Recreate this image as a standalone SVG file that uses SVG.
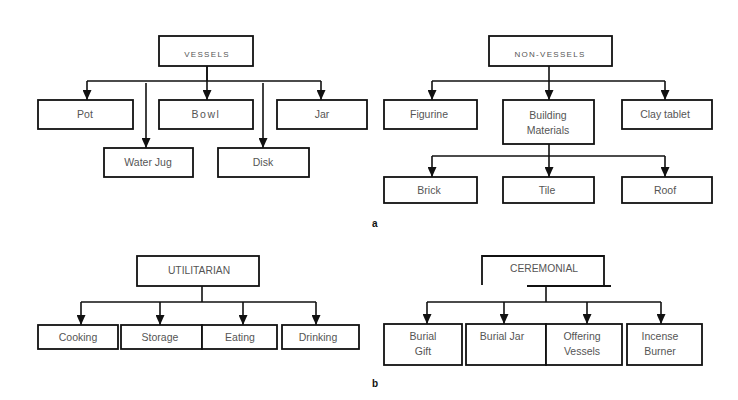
<svg xmlns="http://www.w3.org/2000/svg" width="738" height="400" viewBox="0 0 738 400">
<style>
.b{fill:#fff;stroke:#111;stroke-width:1.8}
.c{fill:none;stroke:#111;stroke-width:1.6}
.t{font-family:"Liberation Sans",Arial,sans-serif;font-size:10.5px;fill:#555;text-anchor:middle}
.h{font-family:"Liberation Sans",Arial,sans-serif;font-size:8px;fill:#555;text-anchor:middle;letter-spacing:1.3px}
.hu{font-family:"Liberation Sans",Arial,sans-serif;font-size:10.3px;fill:#555;text-anchor:middle}
.l{font-family:"Liberation Sans",Arial,sans-serif;font-size:10px;font-weight:bold;fill:#111}
</style>
<defs>
<marker id="a" markerUnits="userSpaceOnUse" markerWidth="10" markerHeight="9" viewBox="0 0 10 9" refX="10" refY="4.5" orient="auto">
<path d="M0,0 L10,4.5 L0,9 z" fill="#111"/>
</marker>
</defs>
<rect width="738" height="400" fill="#fff"/>
<g id="connectors">
<path class="c" d="M207,66 V81 M87,81 H321"/>
<path class="c" d="M207,66 V100" marker-end="url(#a)"/>
<path class="c" d="M87,81 V100" marker-end="url(#a)"/>
<path class="c" d="M321,81 V100" marker-end="url(#a)"/>
<path class="c" d="M146,83 V148" marker-end="url(#a)"/>
<path class="c" d="M263,83 V148" marker-end="url(#a)"/>
<path class="c" d="M432,81 H665"/>
<path class="c" d="M549,66 V100" marker-end="url(#a)"/>
<path class="c" d="M432,81 V100" marker-end="url(#a)"/>
<path class="c" d="M665,81 V100" marker-end="url(#a)"/>
<path class="c" d="M432,156 H665"/>
<path class="c" d="M549,144 V177" marker-end="url(#a)"/>
<path class="c" d="M432,156 V177" marker-end="url(#a)"/>
<path class="c" d="M665,156 V177" marker-end="url(#a)"/>
<path class="c" d="M202,286 V302 M81,302 H316"/>
<path class="c" d="M81,302 V325" marker-end="url(#a)"/>
<path class="c" d="M160,302 V325" marker-end="url(#a)"/>
<path class="c" d="M243,302 V325" marker-end="url(#a)"/>
<path class="c" d="M316,302 V325" marker-end="url(#a)"/>
<path class="c" d="M546,286 V302 M427,302 H661"/>
<path class="c" d="M427,302 V324" marker-end="url(#a)"/>
<path class="c" d="M504,302 V324" marker-end="url(#a)"/>
<path class="c" d="M587,302 V324" marker-end="url(#a)"/>
<path class="c" d="M661,302 V324" marker-end="url(#a)"/>
</g>
<g id="vessels"><rect class="b" x="159" y="36" width="94" height="30"/><text class="h" x="207" y="57">VESSELS</text></g>
<g id="pot"><rect class="b" x="38" y="100" width="95" height="29"/><text class="t" x="85" y="118">Pot</text></g>
<g id="bowl"><rect class="b" x="159" y="100" width="94" height="29"/><text class="t" x="206" y="118" letter-spacing="1.5">Bowl</text></g>
<g id="jar"><rect class="b" x="277" y="100" width="90" height="29"/><text class="t" x="322" y="118">Jar</text></g>
<g id="waterjug"><rect class="b" x="104" y="148" width="89" height="29"/><text class="t" x="148" y="166">Water Jug</text></g>
<g id="disk"><rect class="b" x="218" y="148" width="91" height="29"/><text class="t" x="263" y="166">Disk</text></g>
<g id="nonvessels"><rect class="b" x="489" y="36" width="123" height="30"/><text class="h" x="550" y="57">NON-VESSELS</text></g>
<g id="figurine"><rect class="b" x="384" y="100" width="93" height="29"/><text class="t" x="429" y="118">Figurine</text></g>
<g id="building"><rect class="b" x="503" y="100" width="91" height="44"/><text class="t" x="548" y="119">Building</text><text class="t" x="548" y="134">Materials</text></g>
<g id="claytablet"><rect class="b" x="622" y="100" width="90" height="29"/><text class="t" x="665" y="118">Clay tablet</text></g>
<g id="brick"><rect class="b" x="384" y="177" width="93" height="26"/><text class="t" x="429" y="194">Brick</text></g>
<g id="tile"><rect class="b" x="503" y="177" width="91" height="26"/><text class="t" x="547" y="194">Tile</text></g>
<g id="roof"><rect class="b" x="622" y="177" width="90" height="26"/><text class="t" x="665" y="194">Roof</text></g>
<text class="l" x="372" y="227">a</text>
<g id="utilitarian"><rect class="b" x="137" y="256" width="122" height="30"/><text class="hu" x="199" y="274">UTILITARIAN</text></g>
<g id="cooking"><rect class="b" x="38" y="325" width="80" height="24"/><text class="t" x="78" y="341">Cooking</text></g>
<g id="storage"><rect class="b" x="121" y="325" width="81" height="24"/><text class="t" x="160" y="341">Storage</text></g>
<g id="eating"><rect class="b" x="202" y="325" width="75" height="24"/><text class="t" x="240" y="341">Eating</text></g>
<g id="drinking"><rect class="b" x="282" y="325" width="77" height="24"/><text class="t" x="318" y="341">Drinking</text></g>
<g id="ceremonial"><path class="b" style="fill:none" d="M482,285 V256 H604 V286 M527,286 H611"/><text class="hu" x="544" y="272">CEREMONIAL</text></g>
<g id="burialgift"><rect class="b" x="384" y="324" width="78" height="41"/><text class="t" x="423" y="340">Burial</text><text class="t" x="423" y="355">Gift</text></g>
<g id="burialjar"><rect class="b" x="466" y="324" width="80" height="41"/><text class="t" x="502" y="340">Burial Jar</text></g>
<g id="offering"><rect class="b" x="546" y="324" width="76" height="41"/><text class="t" x="582" y="340">Offering</text><text class="t" x="582" y="355">Vessels</text></g>
<g id="incense"><rect class="b" x="627" y="324" width="75" height="41"/><text class="t" x="660" y="340">Incense</text><text class="t" x="660" y="355">Burner</text></g>
<text class="l" x="372" y="387">b</text>
</svg>
